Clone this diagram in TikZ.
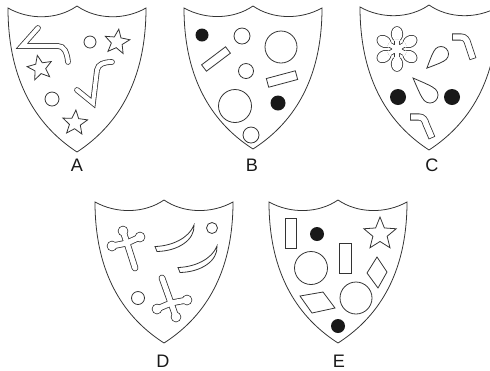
\documentclass[tikz,border=0pt]{standalone}
\usepackage{fontspec}
\setmainfont{Liberation Sans}
\usetikzlibrary{calc}

% shield outline: peak x, peak y, height
\newcommand{\shieldat}[3]{%
    \begin{scope}[shift={(#1,#2)}, yscale=#3/146]
        \draw[edge] (-69,2) .. controls (-48,14) and (-20,14) .. (0,0)
            .. controls (20,14) and (48,14) .. (69,2)
            .. controls (69,85) and (32,125) .. (0,146)
            .. controls (-32,125) and (-69,85) .. (-69,2) -- cycle;
    \end{scope}}
% five pointed star: x, y, radius, turn
\newcommand{\starat}[4]{%
    \begin{scope}[shift={(#1,#2)}, rotate=#4]
        \draw[edge] (-90:#3) \foreach \k in {1,...,9} {-- ({-90+36*\k}:{#3*(1-0.56*mod(\k,2))})} -- cycle;
    \end{scope}}
\newcommand{\roundpipe}[1]{%
    \draw[pipe, draw=black!80, line width=3.2pt, line cap=round] #1;
    \draw[pipe, draw=white, line width=2.3pt, line cap=round] #1;}
\newcommand{\flatpipe}[1]{%
    \draw[pipe, draw=black!80, line width=4pt] #1;
    \draw[pipe, draw=white, line width=3.1pt, shorten <=0.45pt, shorten >=0.45pt] #1;}
% teardrop: bulb x, bulb y, direction, length, radius
\newcommand{\drop}[5]{%
    \begin{scope}[shift={(#1,#2)}, rotate=#3]
        \draw[edge] (#4,0) .. controls ({0.5*#4},{0.6*#5}) and ({0.5*#5},#5) .. (0,#5)
            arc [start angle=90, end angle=270, radius=#5]
            .. controls ({0.5*#5},-#5) and ({0.5*#4},{-0.6*#5}) .. (#4,0) -- cycle;
    \end{scope}}
% cross with knobs: centre, long end, three knobs
\newcommand{\knobcross}[5]{%
    \foreach \c/\w/\r in {black!80/3.8pt/5.3, white/2.9pt/4.5} {
        \draw[draw=\c, line width=\w, line cap=round] #1 -- #2 #1 -- #3 #1 -- #4 #1 -- #5;
        \fill[fill=\c] #3 circle [radius=\r] #4 circle [radius=\r] #5 circle [radius=\r];
    }}
\newcommand{\flower}[2]{%
    \begin{scope}[shift={(#1,#2)}]
        \foreach \c/\e in {black!80/0.8, white/0} {
            \foreach \a in {30,90,...,330}
                \fill[fill=\c, rotate=\a] (15,0) ellipse [x radius=7+\e, y radius=5.3+\e]
                    (4,{-2-\e}) rectangle (10,{2+\e});
            \fill[fill=\c] (0,0) circle [radius=5+\e];
        }
    \end{scope}}
\newcommand{\crescent}{%
    \draw[edge] (155,246.5) .. controls (172,246) and (189,238) .. (194,225)
        .. controls (195,240) and (178,251) .. (157,251.5) -- cycle;}

\begin{document}
\begin{tikzpicture}[x=0.02cm, y=-0.02cm,
    edge/.style={draw=black!80, line width=0.45pt},
    pipe/.style={line join=miter},
    blob/.style={fill=black!90},
    tag/.style={font=\fontsize{10.3}{12}\selectfont, text=black!90, inner sep=0pt}]
    \useasboundingbox (0,0) rectangle (490,370);

    % A
    \shieldat{77}{6}{146}
    \roundpipe{(38,28) -- (22,46) -- (58,46) .. controls (64,46) and (67,52) .. (68,62)}
    \roundpipe{(77,90) -- (93,103) -- (97,70) .. controls (98,64) and (104,62) .. (112,62)}
    \draw[edge] (90,42) circle [radius=6];
    \draw[edge] (52,99) circle [radius=7];
    \starat{117}{42}{13}{-8}
    \starat{40}{68}{13}{12}
    \starat{75}{123}{13}{-4}
    \node[tag] (labA) at (77,165) {A};

    % B
    \shieldat{253}{6}{143}
    \fill[blob] (202,35) circle [radius=6.5];
    \draw[edge] (242,36) circle [radius=8];
    \draw[edge] (281,47) circle [radius=16];
    \draw[edge, rotate around={37:(216,59)}] (201,55) rectangle (231,63);
    \draw[edge] (246,71) circle [radius=7.5];
    \draw[edge, rotate around={15:(282,79)}] (267,74.5) rectangle (297,83.5);
    \draw[edge] (235,106) circle [radius=16.5];
    \fill[blob] (278,103) circle [radius=7.5];
    \draw[edge] (251,135) circle [radius=8];
    \node[tag] (labB) at (252,165) {B};

    % C
    \shieldat{429}{5}{145}
    \flower{397}{49}
    \drop{441}{54}{225}{20}{7.5}
    \flatpipe{(452,37) -- (461,37) .. controls (465,37) and (467,40) .. (468,44) -- (473,59)}
    \drop{430}{95}{135}{24}{8}
    \fill[blob] (398,97) circle [radius=8];
    \fill[blob] (452,97) circle [radius=8];
    \flatpipe{(410,117) -- (419,117) .. controls (423,117) and (425,120) .. (426,124) -- (432,138)}
    \node[tag] (labC) at (432,165) {C};

    % D
    \shieldat{164}{200}{143}
    \knobcross{(127,243)}{(135,268)}{(123,231)}{(112,246)}{(140,237)}
    \crescent
    \begin{scope}[shift={(23,21)}]
        \crescent
    \end{scope}
    \draw[edge] (212,228) circle [radius=5.5];
    \draw[edge] (138,298) circle [radius=6.5];
    \knobcross{(171,303)}{(162,278)}{(157,309)}{(187,300)}{(176,317)}
    \node[tag] (labD) at (163,361) {D};

    % E
    \shieldat{338}{200}{143}
    \draw[edge] (285,218) rectangle (296,248);
    \fill[blob] (317,234) circle [radius=7];
    \starat{380}{234}{17}{0}
    \draw[edge] (311,268) circle [radius=16.5];
    \draw[edge] (339,243) rectangle (351,273);
    \draw[edge] (377,257) -- (387,272) -- (378,288) -- (367,273) -- cycle;
    \draw[edge] (300,296) -- (323,292) -- (335,308) -- (312,313) -- cycle;
    \draw[edge] (356,298) circle [radius=16];
    \fill[blob] (338,326) circle [radius=7];
    \node[tag] (labE) at (339,361) {E};
\end{tikzpicture}
\end{document}
